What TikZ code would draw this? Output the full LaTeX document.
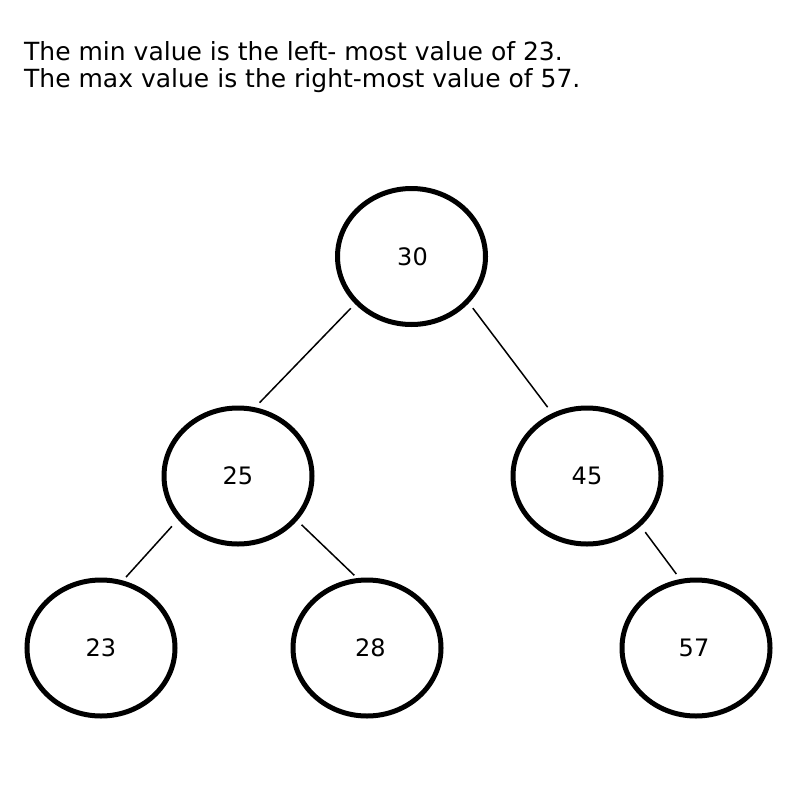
\documentclass[tikz,border=0pt]{standalone}
\usepackage{fontspec}
\setmainfont{DejaVu Sans}
\usetikzlibrary{shapes.geometric}
\begin{document}
\begin{tikzpicture}[x=1pt,y=-1pt,
  treenode/.style={ellipse,draw=black,line width=5pt,minimum width=148pt,minimum height=136pt,inner sep=0pt,font=\fontsize{24}{28}\selectfont},
  edge/.style={line width=1.5pt},
  caption/.style={anchor=base west,inner sep=0pt,font=\fontsize{25}{30}\selectfont}]
\useasboundingbox (0,0) rectangle (800,800);
\node[caption] (t1) at (24,60) {The min value is the left- most value of 23.};
\node[caption] (t2) at (24,88) {The max value is the right-most value of 57.};
\node[treenode] (n30) at (411.5,256.5) {\hspace*{2pt}30};
\node[treenode] (n25) at (238,476) {25};
\node[treenode] (n45) at (587,476) {45};
\node[treenode] (n23) at (101,648) {23};
\node[treenode] (n28) at (367,648) {\hspace*{7pt}28};
\node[treenode] (n57) at (696,648) {57\hspace*{4pt}};
\draw[edge,shorten <=6pt,shorten >=6.4pt] (n30.220.4) -- (n25.76.3);
\draw[edge,shorten <=6.4pt,shorten >=7.6pt] (n30.321.6) -- (n45.119.8);
\draw[edge,shorten <=9pt,shorten >=4.5pt] (n25.216.6) -- (n23.72.1);
\draw[edge,shorten <=6pt,shorten >=4pt] (n25.323.7) -- (n28.98.6);
\draw[edge,shorten <=7.5pt,shorten >=6.2pt] (n45.317.5) -- (n57.103.7);
\end{tikzpicture}
\end{document}
